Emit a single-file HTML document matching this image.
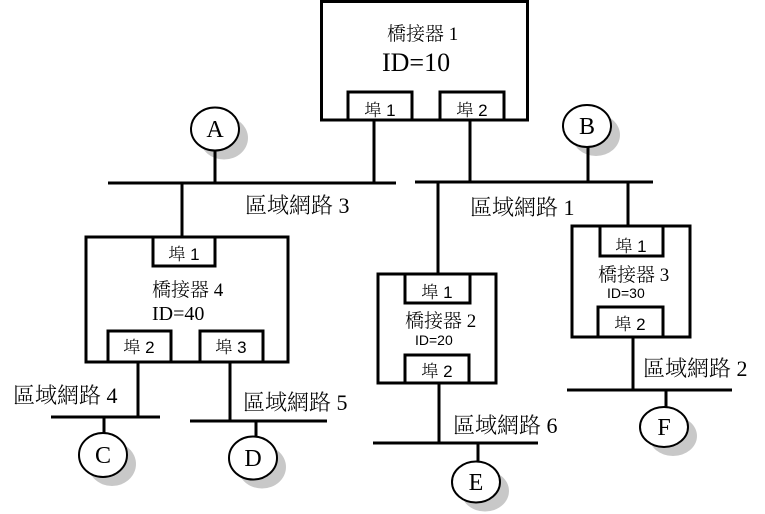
<!DOCTYPE html>
<html><head><meta charset="utf-8"><style>
html,body{margin:0;padding:0;background:#fff;}
svg{display:block;}
text{font-family:"Liberation Serif","Noto Serif CJK SC",serif;fill:#000;font-weight:300;}
text.s{font-family:"Liberation Sans","Noto Serif CJK SC",sans-serif;}
</style></head><body>
<svg width="765" height="514" viewBox="0 0 765 514" xmlns="http://www.w3.org/2000/svg">
<g fill="#c8c8c8" stroke="none">
<ellipse cx="224" cy="138" rx="24" ry="21.5"/>
<ellipse cx="596" cy="135" rx="24" ry="21"/>
<ellipse cx="112" cy="464" rx="24" ry="22"/>
<ellipse cx="262" cy="467" rx="24" ry="21.5"/>
<ellipse cx="485" cy="491" rx="24" ry="20.5"/>
<ellipse cx="673" cy="436" rx="24" ry="20"/>
</g>
<g fill="none" stroke="#000" stroke-width="3">
<!-- Bridge 1 -->
<rect x="321.5" y="1.5" width="206" height="118.5" fill="#fff"/>
<rect x="348" y="92" width="64" height="28"/>
<rect x="440" y="92" width="64" height="28"/>
<line x1="374" y1="120" x2="374" y2="183"/>
<line x1="470" y1="120" x2="470" y2="182"/>
<!-- buses top -->
<line x1="108" y1="183" x2="396" y2="183"/>
<line x1="415" y1="182" x2="653" y2="182"/>
<!-- A / B -->
<line x1="215" y1="150" x2="215" y2="183"/>
<line x1="588" y1="147" x2="588" y2="182"/>
<!-- Bridge 4 -->
<line x1="182" y1="183" x2="182" y2="237"/>
<rect x="86" y="237" width="202" height="125"/>
<rect x="153" y="237" width="62" height="29"/>
<rect x="108" y="331" width="63" height="31"/>
<rect x="200" y="331" width="63" height="31"/>
<line x1="138" y1="362" x2="138" y2="417"/>
<line x1="51" y1="417" x2="160" y2="417"/>
<line x1="104" y1="417" x2="104" y2="434"/>
<line x1="230" y1="362" x2="230" y2="421"/>
<line x1="190" y1="421" x2="327" y2="421"/>
<line x1="256" y1="421" x2="256" y2="437"/>
<!-- Bridge 2 -->
<line x1="438" y1="182" x2="438" y2="274"/>
<rect x="378" y="274" width="118" height="109"/>
<rect x="405" y="274" width="65" height="29"/>
<rect x="405" y="355" width="64" height="28"/>
<line x1="439" y1="383" x2="439" y2="443"/>
<line x1="373" y1="443" x2="538" y2="443"/>
<line x1="478" y1="443" x2="478" y2="462"/>
<!-- Bridge 3 -->
<line x1="628" y1="182" x2="628" y2="226"/>
<rect x="572" y="226" width="118" height="111"/>
<rect x="600" y="226" width="63" height="30"/>
<rect x="598" y="307" width="65" height="30"/>
<line x1="633" y1="337" x2="633" y2="390"/>
<line x1="567" y1="390" x2="732" y2="390"/>
<line x1="666" y1="390" x2="666" y2="407"/>
</g>
<g fill="#fff" stroke="#000" stroke-width="2">
<ellipse cx="215" cy="129" rx="24" ry="21.5"/>
<ellipse cx="587" cy="126" rx="24" ry="21"/>
<ellipse cx="103" cy="455" rx="24" ry="22"/>
<ellipse cx="253" cy="458" rx="24" ry="21.5"/>
<ellipse cx="476" cy="482" rx="24" ry="20.5"/>
<ellipse cx="664" cy="427" rx="24" ry="20"/>
</g>
<!-- Text -->
<text x="387" y="40" font-size="19">橋接器 1</text>
<text x="382" y="71" font-size="26">ID=10</text>
<text class="s" x="380" y="116" font-size="17" text-anchor="middle">埠 1</text>
<text class="s" x="472" y="116" font-size="17" text-anchor="middle">埠 2</text>

<text x="215" y="137" font-size="24" text-anchor="middle">A</text>
<text x="587" y="134" font-size="24" text-anchor="middle">B</text>
<text x="103" y="463" font-size="24" text-anchor="middle">C</text>
<text x="253" y="466" font-size="24" text-anchor="middle">D</text>
<text x="476" y="490" font-size="24" text-anchor="middle">E</text>
<text x="664" y="435" font-size="24" text-anchor="middle">F</text>

<text x="245" y="213" font-size="22">區域網路 3</text>
<text x="470" y="215" font-size="22">區域網路 1</text>
<text x="13" y="403" font-size="22">區域網路 4</text>
<text x="243" y="410" font-size="22">區域網路 5</text>
<text x="453" y="433" font-size="22">區域網路 6</text>
<text x="643" y="376" font-size="22">區域網路 2</text>

<text class="s" x="184" y="260" font-size="17" text-anchor="middle">埠 1</text>
<text x="152" y="296" font-size="19">橋接器 4</text>
<text x="152" y="320" font-size="20">ID=40</text>
<text class="s" x="139" y="353" font-size="17" text-anchor="middle">埠 2</text>
<text class="s" x="231" y="353" font-size="17" text-anchor="middle">埠 3</text>

<text class="s" x="437" y="298" font-size="17" text-anchor="middle">埠 1</text>
<text x="405" y="327" font-size="19">橋接器 2</text>
<text class="s" x="415" y="345" font-size="14">ID=20</text>
<text class="s" x="437" y="377" font-size="17" text-anchor="middle">埠 2</text>

<text class="s" x="631" y="252" font-size="17" text-anchor="middle">埠 1</text>
<text x="598" y="281" font-size="19">橋接器 3</text>
<text class="s" x="607" y="298" font-size="14">ID=30</text>
<text class="s" x="630" y="330" font-size="17" text-anchor="middle">埠 2</text>
</svg>
</body></html>
